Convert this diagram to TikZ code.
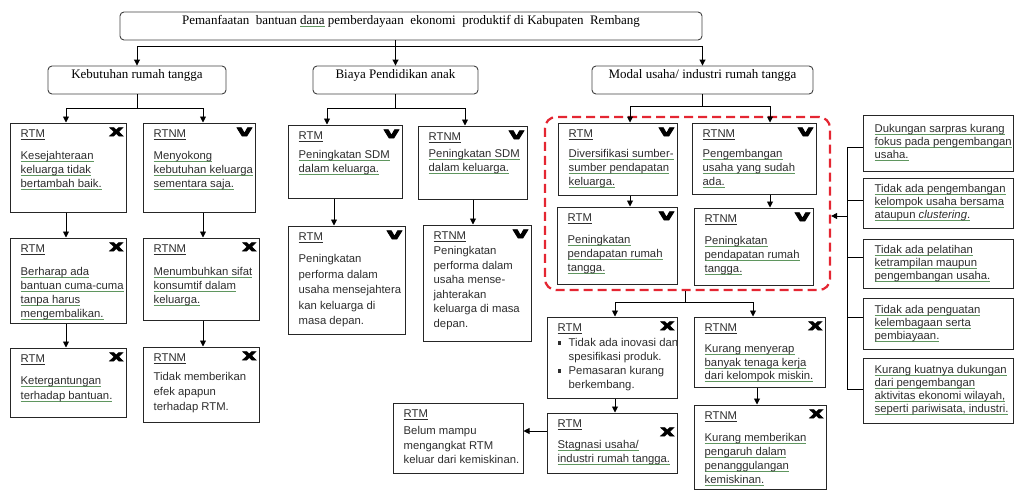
\documentclass[tikz,border=0pt]{standalone}
\usepackage{fontspec}
\setmainfont{Liberation Serif}
\newfontfamily\sfn{Liberation Sans}
\newfontfamily\iconf[FakeBold=4]{DejaVu Sans}
\usetikzlibrary{arrows.meta,fit,calc}
\definecolor{ulc}{RGB}{95,150,95}
\definecolor{txtc}{RGB}{45,45,45}
\definecolor{dashred}{RGB}{228,38,50}
\newcommand\ul[1]{\setbox0=\hbox{#1}\rlap{\color{ulc}\rule[-2.2pt]{\wd0}{0.7pt}}\box0\relax}
\newcommand\hd[1]{\underline{#1}}
\newcommand\xic{\scalebox{1.35}[0.95]{\bfseries x}}
\newcommand\vic{\scalebox{1.5}[0.95]{\bfseries v}}
\newcommand\bul{\makebox[11pt][l]{\rule[1.8pt]{3.5pt}{3.5pt}}}
\tikzset{
  bx/.style={draw=black!85, line width=1pt, inner sep=0pt},
  cat/.style={draw=black!75, line width=0.9pt, rounded corners=4pt, inner sep=0pt},
  tx/.style={inner sep=0pt, align=left, anchor=north west, text=txtc,
    font=\sfn\fontsize{11.3}{14}\selectfont},
  lt/.style={inner sep=0pt, align=left, anchor=west, text=txtc,
    font=\sfn\fontsize{11.3}{13}\selectfont},
  ar/.style={line width=0.9pt, -{Triangle[length=6pt,width=6pt]}},
  ln/.style={line width=0.9pt},
  ic/.style={inner sep=0pt, anchor=north east, font=\iconf\fontsize{16}{16}\selectfont}
}
\newcommand\bt[5]{\node[tx] (#1) at ([xshift=11pt,yshift=-7pt]#2.north west) {\hd{#3}\\[#4]#5};}
\newcommand\ico[3]{\node[ic] (#1) at ([xshift=-3pt,yshift=-5pt]#2.north east) {#3};}
\begin{document}
\begin{tikzpicture}[x=1pt,y=-1pt]
\useasboundingbox (0,0) rectangle (1015,490);
% top and categories
\node[cat, fit={(120,12)(702,40)}, font=\fontsize{13}{15}\selectfont] (top)
  {Pemanfaatan~ bantuan \ul{dana} pemberdayaan~ ekonomi~ produktif di Kabupaten~ Rembang};
\node[cat, fit={(48,66)(226,94)}, font=\fontsize{13}{15}\selectfont] (cat1) {Kebutuhan rumah tangga};
\node[cat, fit={(313,66)(478,94)}, font=\fontsize{13}{15}\selectfont] (cat2) {Biaya Pendidikan anak};
\node[cat, fit={(592,66)(813,94)}, font=\fontsize{13}{15}\selectfont] (cat3) {Modal usaha/ industri rumah tangga};

% left column
\node[bx, fit={(10,123)(126,212)}] (l1) {};
\node[bx, fit={(143,123)(255,212)}] (r1) {};
\node[bx, fit={(10,238)(126,323)}] (l2) {};
\node[bx, fit={(143,238)(259,320)}] (r2) {};
\node[bx, fit={(10,348)(126,417)}] (l3) {};
\node[bx, fit={(143,347)(259,422)}] (r3) {};
\bt{l1t}{l1}{RTM}{8pt}{\ul{Kesejahteraan}\\\ul{keluarga tidak}\\\ul{bertambah baik.}}
\bt{r1t}{r1}{RTNM}{8pt}{\ul{Menyokong}\\\ul{kebutuhan keluarga}\\\ul{sementara saja.}}
\bt{l2t}{l2}{RTM}{9pt}{\ul{Berharap ada}\\\ul{bantuan cuma-cuma}\\\ul{tanpa harus}\\\ul{mengembalikan.}}
\bt{r2t}{r2}{RTNM}{9pt}{\ul{Menumbuhkan sifat}\\\ul{konsumtif dalam}\\\ul{keluarga.}}
\node[tx, font=\sfn\fontsize{11.3}{15}\selectfont] (l3t) at ([xshift=11pt,yshift=-7pt]l3.north west)
  {\hd{RTM}\\[7pt]\ul{Ketergantungan}\\\ul{terhadap bantuan.}};
\node[tx, font=\sfn\fontsize{11.3}{15}\selectfont] (r3t) at ([xshift=11pt,yshift=-7pt]r3.north west)
  {\hd{RTNM}\\[4pt]Tidak memberikan\\efek apapun\\terhadap RTM.};
\ico{l1i}{l1}{\xic}
\ico{r1i}{r1}{\vic}
\ico{l2i}{l2}{\xic}
\ico{r2i}{r2}{\xic}
\ico{l3i}{l3}{\xic}
\ico{r3i}{r3}{\xic}

% middle column
\node[bx, fit={(288,125)(402,198)}] (m1) {};
\node[bx, fit={(418,126)(527,199)}] (m2) {};
\node[bx, fit={(288,226)(405,334)}] (m3) {};
\node[bx, fit={(423,225)(531,341)}] (m4) {};
\bt{m1t}{m1}{RTM}{5pt}{\ul{Peningkatan SDM}\\\ul{dalam keluarga.}}
\node[tx, font=\sfn\fontsize{11.3}{13.3}\selectfont] (m2t) at ([xshift=11pt,yshift=-7pt]m2.north west)
  {\hd{RTNM}\\[4pt]\ul{Peningkatan SDM}\\\ul{dalam keluarga.}};
\node[tx, font=\sfn\fontsize{11.3}{15.5}\selectfont] (m3t) at ([xshift=11pt,yshift=-7pt]m3.north west)
  {\hd{RTM}\\[7pt]Peningkatan\\performa dalam\\usaha mensejahtera\\kan keluarga di\\masa depan.};
\node[tx, font=\sfn\fontsize{11.3}{14.5}\selectfont] (m4t) at ([xshift=11pt,yshift=-7pt]m4.north west)
  {\hd{RTNM}\\[1pt]Peningkatan\\performa dalam\\usaha mense-\\jahterakan\\keluarga di masa\\depan.};
\ico{m1i}{m1}{\vic}
\ico{m2i}{m2}{\vic}
\ico{m3i}{m3}{\vic}
\ico{m4i}{m4}{\vic}

% right column
\node[draw=dashred, line width=2.2pt, dash pattern=on 9pt off 5pt, rounded corners=11pt,
  inner sep=0pt, fit={(545,117)(830,290)}] (grp) {};
\node[bx, fit={(558,123)(677,195)}] (rt1) {};
\node[bx, fit={(692,123)(816,194)}] (rt2) {};
\node[bx, fit={(557,207)(677,284)}] (rt3) {};
\node[bx, fit={(694,208)(813,285)}] (rt4) {};
\bt{rt1t}{rt1}{RTM}{6pt}{\ul{Diversifikasi sumber-}\\\ul{sumber pendapatan}\\\ul{keluarga.}}
\bt{rt2t}{rt2}{RTNM}{6pt}{\ul{Pengembangan}\\\ul{usaha yang sudah}\\\ul{ada.}}
\bt{rt3t}{rt3}{RTM}{8pt}{\ul{Peningkatan}\\\ul{pendapatan rumah}\\\ul{tangga.}}
\bt{rt4t}{rt4}{RTNM}{8pt}{\ul{Peningkatan}\\\ul{pendapatan rumah}\\\ul{tangga.}}
\ico{rt1i}{rt1}{\vic}
\ico{rt2i}{rt2}{\vic}
\ico{rt3i}{rt3}{\vic}
\ico{rt4i}{rt4}{\vic}

\node[bx, fit={(547,317)(677,398)}] (b1) {};
\node[bx, fit={(694,317)(825,387)}] (b2) {};
\node[bx, fit={(547,413)(677,473)}] (b3) {};
\node[bx, fit={(694,405)(826,489)}] (b4) {};
\node[bx, fit={(393,403)(523,473)}] (b5) {};
\bt{b1t}{b1}{RTM}{1pt}{\bul Tidak ada inovasi dan\\\hspace*{11pt}spesifikasi produk.\\\bul Pemasaran kurang\\\hspace*{11pt}berkembang.}
\node[tx, font=\sfn\fontsize{11.3}{13.5}\selectfont] (b2t) at ([xshift=11pt,yshift=-7pt]b2.north west)
  {\hd{RTNM}\\[8pt]\ul{Kurang menyerap}\\\ul{banyak tenaga kerja}\\\ul{dari kelompok miskin.}};
\bt{b3t}{b3}{RTM}{7pt}{\ul{Stagnasi usaha/}\\\ul{industri rumah tangga.}}
\bt{b4t}{b4}{RTNM}{8pt}{\ul{Kurang memberikan}\\\ul{pengaruh dalam}\\\ul{penanggulangan}\\\ul{kemiskinan.}}
\node[tx, font=\sfn\fontsize{11.3}{14.5}\selectfont] (b5t) at ([xshift=11pt,yshift=-7pt]b5.north west)
  {\hd{RTM}\\[3pt]Belum mampu\\mengangkat RTM\\keluar dari kemiskinan.};
\ico{b1i}{b1}{\xic}
\ico{b2i}{b2}{\xic}
\node[ic] (b3i) at ([xshift=-3pt,yshift=-15pt]b3.north east) {\xic};
\ico{b4i}{b4}{\xic}

% right list
\node[bx, fit={(863,115)(1013,171)}] (s1) {};
\node[bx, fit={(863,178)(1013,228)}] (s2) {};
\node[bx, fit={(863,239)(1013,288)}] (s3) {};
\node[bx, fit={(863,298)(1013,349)}] (s4) {};
\node[bx, fit={(863,358)(1013,423)}] (s5) {};
\node[lt] (s1t) at ([xshift=12pt]s1.west) {\ul{Dukungan sarpras kurang}\\\ul{fokus pada pengembangan}\\\ul{usaha.}};
\node[lt] (s2t) at ([xshift=12pt]s2.west) {\ul{Tidak ada pengembangan}\\\ul{kelompok usaha bersama}\\\ul{ataupun \textit{clustering}.}};
\node[lt] (s3t) at ([xshift=12pt]s3.west) {\ul{Tidak ada pelatihan}\\\ul{ketrampilan maupun}\\\ul{pengembangan usaha.}};
\node[lt] (s4t) at ([xshift=12pt]s4.west) {\ul{Tidak ada penguatan}\\\ul{kelembagaan serta}\\\ul{pembiayaan.}};
\node[lt] (s5t) at ([xshift=12pt]s5.west) {\ul{Kurang kuatnya dukungan}\\\ul{dari pengembangan}\\\ul{aktivitas ekonomi wilayah,}\\\ul{seperti pariwisata, industri.}};

% connectors: top level
\coordinate (yA) at (0,46);
\draw[ln] (cat1.north |- yA) -- (cat3.north |- yA);
\draw[ar] (cat1.north |- yA) -- (cat1.north);
\draw[ar] (cat3.north |- yA) -- (cat3.north);
\draw[ar] (top.south -| cat2.north) -- (cat2.north);

% left
\coordinate (yB) at (0,108);
\coordinate (xL1) at (66,0);
\coordinate (xR1) at (203,0);
\draw[ln] (cat1.south) -- (cat1.south |- yB);
\draw[ln] (xL1 |- yB) -- (xR1 |- yB);
\draw[ar] (xL1 |- yB) -- (xL1 |- l1.north);
\draw[ar] (xR1 |- yB) -- (xR1 |- r1.north);
\draw[ar] (xL1 |- l1.south) -- (xL1 |- l2.north);
\draw[ar] (xR1 |- r1.south) -- (xR1 |- r2.north);
\draw[ar] (xL1 |- l2.south) -- (xL1 |- l3.north);
\draw[ar] (xR1 |- r2.south) -- (xR1 |- r3.north);

% middle
\coordinate (xM1) at (327,0);
\coordinate (xM2) at (465,0);
\coordinate (xM3) at (334,0);
\coordinate (xM4) at (473,0);
\draw[ln] (cat2.south) -- (cat2.south |- yB);
\draw[ln] (xM1 |- yB) -- (xM2 |- yB);
\draw[ar] (xM1 |- yB) -- (xM1 |- m1.north);
\draw[ar] (xM2 |- yB) -- (xM2 |- m2.north);
\draw[ar] (xM3 |- m1.south) -- (xM3 |- m3.north);
\draw[ar] (xM4 |- m2.south) -- (xM4 |- m4.north);

% right
\coordinate (yC) at (0,106);
\coordinate (xA) at (630,0);
\coordinate (xB) at (770,0);
\draw[ln] (cat3.south) -- (cat3.south |- yC);
\draw[ln] (xA |- yC) -- (xB |- yC);
\draw[ar] (xA |- yC) -- (xA |- rt1.north);
\draw[ar] (xB |- yC) -- (xB |- rt2.north);
\draw[ar] (xA |- rt1.south) -- (xA |- rt3.north);
\draw[ar] (xB |- rt2.south) -- (xB |- rt4.north);

\coordinate (xG) at (685,0);
\coordinate (yD) at (0,302);
\coordinate (xC) at (615,0);
\coordinate (xD) at (753,0);
\coordinate (xE) at (757,0);
\draw[ln] (xG |- grp.south) -- (xG |- yD);
\draw[ln] (xC |- yD) -- (xD |- yD);
\draw[ar] (xC |- yD) -- (xC |- b1.north);
\draw[ar] (xD |- yD) -- (xD |- b2.north);
\draw[ar] (xC |- b1.south) -- (xC |- b3.north);
\draw[ar] (xE |- b2.south) -- (xE |- b4.north);
\coordinate (yE) at (0,431);
\draw[ar] (b3.west |- yE) -- (b5.east |- yE);

% bracket
\coordinate (xV) at (847,0);
\coordinate (yS1) at (0,147);
\coordinate (yS2) at (0,200);
\coordinate (yS3) at (0,257);
\coordinate (yS4) at (0,317);
\coordinate (yS5) at (0,389);
\coordinate (yAr) at (0,216);
\draw[ln] (xV |- yS1) -- (xV |- yS5);
\foreach \i in {1,...,5} {\draw[ln] (xV |- yS\i) -- (s\i.west |- yS\i);}
\draw[ar] (xV |- yAr) -- (grp.east |- yAr);
\end{tikzpicture}
\end{document}
